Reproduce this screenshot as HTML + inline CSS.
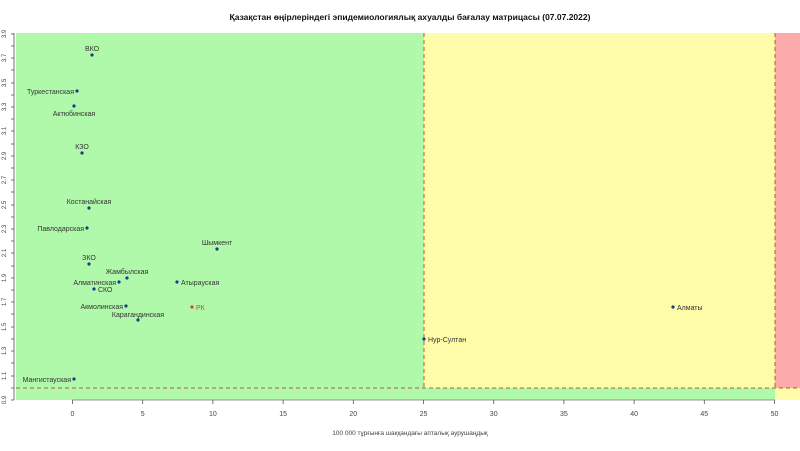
<!DOCTYPE html>
<html><head><meta charset="utf-8"><style>
html,body{margin:0;padding:0;background:#fff;}
svg{display:block;font-family:"Liberation Sans",sans-serif;}
</style></head><body>
<svg width="800" height="451" viewBox="0 0 800 451" xmlns="http://www.w3.org/2000/svg">
<rect x="0" y="0" width="800" height="451" fill="#fff"/>
<text x="410" y="20" font-size="8.5" font-weight="bold" text-anchor="middle" fill="#111">Қазақстан өңірлеріндегі эпидемиологиялық ахуалды бағалау матрицасы  (07.07.2022)</text>
<!-- regions -->
<rect x="16" y="33" width="408" height="367" fill="#b1f9aa"/>
<rect x="424" y="33" width="351" height="355" fill="#fefca8"/>
<rect x="775" y="33" width="25" height="355" fill="#fdaaaa"/>
<rect x="424" y="388" width="351" height="12" fill="#b1f9aa"/>
<rect x="775" y="388" width="25" height="12" fill="#fefca8"/>
<line x1="16" y1="388" x2="800" y2="388" stroke="#b0603a" stroke-width="1" stroke-dasharray="4,3"/>
<line x1="424" y1="33" x2="424" y2="388" stroke="#b0603a" stroke-width="1" stroke-dasharray="4,3"/>
<line x1="775" y1="33" x2="775" y2="388" stroke="#b0603a" stroke-width="1" stroke-dasharray="4,3"/>
<!-- y axis -->
<line x1="14" y1="33" x2="14" y2="400" stroke="#555" stroke-width="0.8"/>
<g stroke="#555" stroke-width="0.8">
<line x1="11" y1="34" x2="14" y2="34"/><line x1="11" y1="46" x2="14" y2="46"/><line x1="11" y1="58" x2="14" y2="58"/><line x1="11" y1="70" x2="14" y2="70"/><line x1="11" y1="83" x2="14" y2="83"/><line x1="11" y1="95" x2="14" y2="95"/><line x1="11" y1="107" x2="14" y2="107"/><line x1="11" y1="119" x2="14" y2="119"/><line x1="11" y1="131" x2="14" y2="131"/><line x1="11" y1="144" x2="14" y2="144"/><line x1="11" y1="156" x2="14" y2="156"/><line x1="11" y1="168" x2="14" y2="168"/><line x1="11" y1="180" x2="14" y2="180"/><line x1="11" y1="192" x2="14" y2="192"/><line x1="11" y1="205" x2="14" y2="205"/><line x1="11" y1="217" x2="14" y2="217"/><line x1="11" y1="229" x2="14" y2="229"/><line x1="11" y1="241" x2="14" y2="241"/><line x1="11" y1="253" x2="14" y2="253"/><line x1="11" y1="266" x2="14" y2="266"/><line x1="11" y1="278" x2="14" y2="278"/><line x1="11" y1="290" x2="14" y2="290"/><line x1="11" y1="302" x2="14" y2="302"/><line x1="11" y1="314" x2="14" y2="314"/><line x1="11" y1="327" x2="14" y2="327"/><line x1="11" y1="339" x2="14" y2="339"/><line x1="11" y1="351" x2="14" y2="351"/><line x1="11" y1="363" x2="14" y2="363"/><line x1="11" y1="376" x2="14" y2="376"/><line x1="11" y1="388" x2="14" y2="388"/><line x1="11" y1="400" x2="14" y2="400"/>
</g>
<g font-size="6" fill="#444" text-anchor="middle">
<text transform="translate(6,34) rotate(-90)">3.9</text>
<text transform="translate(6,58) rotate(-90)">3.7</text>
<text transform="translate(6,83) rotate(-90)">3.5</text>
<text transform="translate(6,107) rotate(-90)">3.3</text>
<text transform="translate(6,131) rotate(-90)">3.1</text>
<text transform="translate(6,156) rotate(-90)">2.9</text>
<text transform="translate(6,180) rotate(-90)">2.7</text>
<text transform="translate(6,205) rotate(-90)">2.5</text>
<text transform="translate(6,229) rotate(-90)">2.3</text>
<text transform="translate(6,253) rotate(-90)">2.1</text>
<text transform="translate(6,278) rotate(-90)">1.9</text>
<text transform="translate(6,302) rotate(-90)">1.7</text>
<text transform="translate(6,327) rotate(-90)">1.5</text>
<text transform="translate(6,351) rotate(-90)">1.3</text>
<text transform="translate(6,376) rotate(-90)">1.1</text>
<text transform="translate(6,400) rotate(-90)">0.9</text>
</g>
<!-- x axis -->
<line x1="72.5" y1="400" x2="775" y2="400" stroke="#777" stroke-width="0.8"/>
<g stroke="#555" stroke-width="0.8">
<line x1="72.5" y1="400" x2="72.5" y2="404"/><line x1="142.7" y1="400" x2="142.7" y2="404"/><line x1="212.9" y1="400" x2="212.9" y2="404"/><line x1="283.1" y1="400" x2="283.1" y2="404"/><line x1="353.3" y1="400" x2="353.3" y2="404"/><line x1="423.5" y1="400" x2="423.5" y2="404"/><line x1="493.7" y1="400" x2="493.7" y2="404"/><line x1="563.9" y1="400" x2="563.9" y2="404"/><line x1="634.1" y1="400" x2="634.1" y2="404"/><line x1="704.3" y1="400" x2="704.3" y2="404"/><line x1="774.5" y1="400" x2="774.5" y2="404"/>
</g>
<g font-size="7" fill="#444" text-anchor="middle">
<text x="72.5" y="416">0</text><text x="142.7" y="416">5</text><text x="212.9" y="416">10</text><text x="283.1" y="416">15</text><text x="353.3" y="416">20</text><text x="423.5" y="416">25</text><text x="493.7" y="416">30</text><text x="563.9" y="416">35</text><text x="634.1" y="416">40</text><text x="704.3" y="416">45</text><text x="774.5" y="416">50</text>
</g>
<text x="410" y="435" font-size="6.5" fill="#444" text-anchor="middle">100 000 тұрғынға шаққандағы апталық аурушаңдық</text>
<!-- points -->
<g fill="#1a3a8a">
<circle cx="92" cy="55" r="1.6"/><circle cx="77" cy="91" r="1.6"/><circle cx="74" cy="106" r="1.6"/><circle cx="82" cy="153" r="1.6"/><circle cx="89" cy="208" r="1.6"/><circle cx="87" cy="228" r="1.6"/><circle cx="217" cy="249" r="1.6"/><circle cx="89" cy="264" r="1.6"/><circle cx="127" cy="278" r="1.6"/><circle cx="119" cy="282" r="1.6"/><circle cx="177" cy="282" r="1.6"/><circle cx="94" cy="289" r="1.6"/><circle cx="126" cy="306" r="1.6"/><circle cx="138" cy="320" r="1.6"/><circle cx="424" cy="339" r="1.6"/><circle cx="673" cy="307" r="1.6"/><circle cx="74" cy="379" r="1.6"/>
</g>
<circle cx="192" cy="307" r="1.6" fill="#c05020"/>
<g font-size="7" fill="#333">
<text x="92" y="51" text-anchor="middle">ВКО</text>
<text x="74" y="94" text-anchor="end">Туркестанская</text>
<text x="74" y="116" text-anchor="middle">Актюбинская</text>
<text x="82" y="149" text-anchor="middle">КЗО</text>
<text x="89" y="204" text-anchor="middle">Костанайская</text>
<text x="84" y="231" text-anchor="end">Павлодарская</text>
<text x="217" y="245" text-anchor="middle">Шымкент</text>
<text x="89" y="260" text-anchor="middle">ЗКО</text>
<text x="127" y="274" text-anchor="middle">Жамбылская</text>
<text x="116" y="285" text-anchor="end">Алматинская</text>
<text x="181" y="285">Атырауская</text>
<text x="98" y="292">СКО</text>
<text x="123" y="309" text-anchor="end">Акмолинская</text>
<text x="138" y="317" text-anchor="middle">Карагандинская</text>
<text x="196" y="310" fill="#c05020">РК</text>
<text x="428" y="342">Нур-Султан</text>
<text x="677" y="310">Алматы</text>
<text x="71" y="382" text-anchor="end">Мангистауская</text>
</g>
</svg>
</body></html>
